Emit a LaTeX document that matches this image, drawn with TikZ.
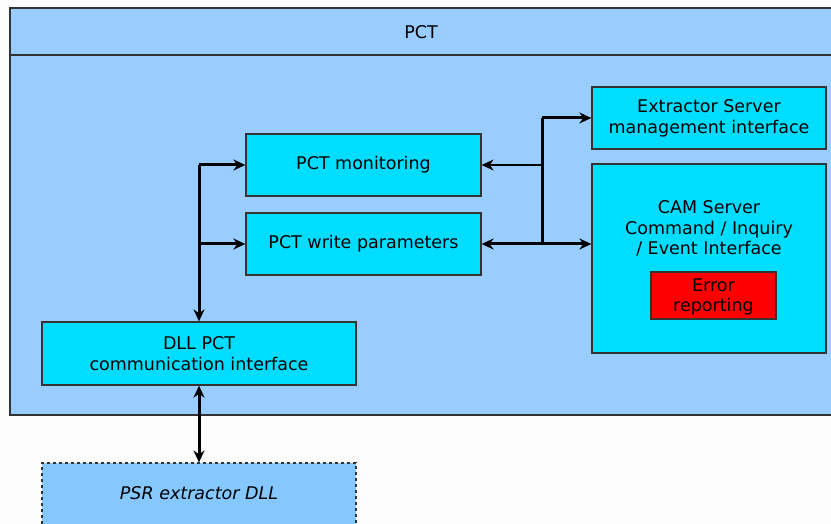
\documentclass[tikz,border=0pt]{standalone}
\usepackage{fontspec}
\setmainfont{DejaVu Sans}
\usetikzlibrary{arrows.meta}
\definecolor{pctbg}{HTML}{99CCFF}
\definecolor{boxcyan}{HTML}{00DDFF}
\definecolor{dllblue}{HTML}{85C8FF}
\definecolor{edge}{HTML}{333333}
\tikzset{
  labelfont/.style={font=\fontsize{17.5}{20.8}\selectfont},
  module/.style={draw=edge, line width=1.3pt, fill=boxcyan, inner sep=0pt,
    align=center, labelfont},
  link/.style={line width=3pt, line cap=butt},
  slim/.style={line width=1.2pt},
  tip/.style={-{Stealth[length=12pt,width=11pt]}},
  tips/.style={{Stealth[length=12pt,width=11pt]}-{Stealth[length=12pt,width=11pt]}},
}
\begin{document}
\begin{tikzpicture}[x=1pt,y=-1pt]
  \clip (0,0) rectangle (831,524);
  \fill[white!99!black] (0,0) rectangle (831,524);
  % PCT container with title band
  \draw[edge, line width=1.3pt, fill=pctbg] (10,8) rectangle (845,415);
  \draw[edge, line width=1.3pt] (10,55) -- (845,55);
  \node[labelfont] (title) at (421,32) {PCT};

  % modules
  \node[module, minimum width=235pt, minimum height=62pt] (mon) at (363.5,165) {PCT monitoring};
  \node[module, minimum width=235pt, minimum height=62pt] (wp) at (363.5,244) {PCT write parameters};
  \node[module, minimum width=234pt, minimum height=62pt] (ext) at (709,118) {Extractor Server\\management interface};
  \node[module, minimum width=234pt, minimum height=189pt] (cam) at (709,258.5) {};
  \node[labelfont, align=center] (camtxt) at (709,228.5) {CAM Server\\Command / Inquiry\\/ Event Interface};
  \node[module, fill=red, minimum width=125pt, minimum height=47pt] (err) at (713.5,295.5) {};
  \node[labelfont, align=center] (errtxt) at (713.5,297) {Error\\reporting};
  \node[module, minimum width=314pt, minimum height=63pt] (dll) at (199,353.5) {DLL PCT\\communication interface};
  \node[draw=edge, line width=1.1pt, dash pattern=on 3pt off 3pt, fill=dllblue,
    minimum width=314pt, minimum height=70pt, inner sep=0pt] (psr) at (199,498) {};
  \node[labelfont, font=\fontsize{17.5}{20.8}\selectfont\itshape] (psrtxt) at (199,493) {PSR extractor DLL};

  % left bus
  \coordinate (lj) at (mon.west -| dll.north);
  \draw[link, tip] (lj) -- (dll.north);
  \draw[link, tip] (lj) -- (mon.west);
  \draw[link, tip] (wp.west -| dll.north) -- (wp.west);
  \draw[link, tips] (dll.south) -- (psr.north);

  % right bus
  \coordinate (rj) at (542,0);
  \draw[link] (rj |- ext.west) -- (rj |- wp.east);
  \draw[link, tip] (rj |- ext.west) -- (ext.west);
  \draw[slim, -{Stealth[length=12pt,width=11pt]}] (rj |- mon.east) -- (mon.east);
  \draw[link, tips] (wp.east) -- (wp.east -| cam.west);
\end{tikzpicture}
\end{document}
